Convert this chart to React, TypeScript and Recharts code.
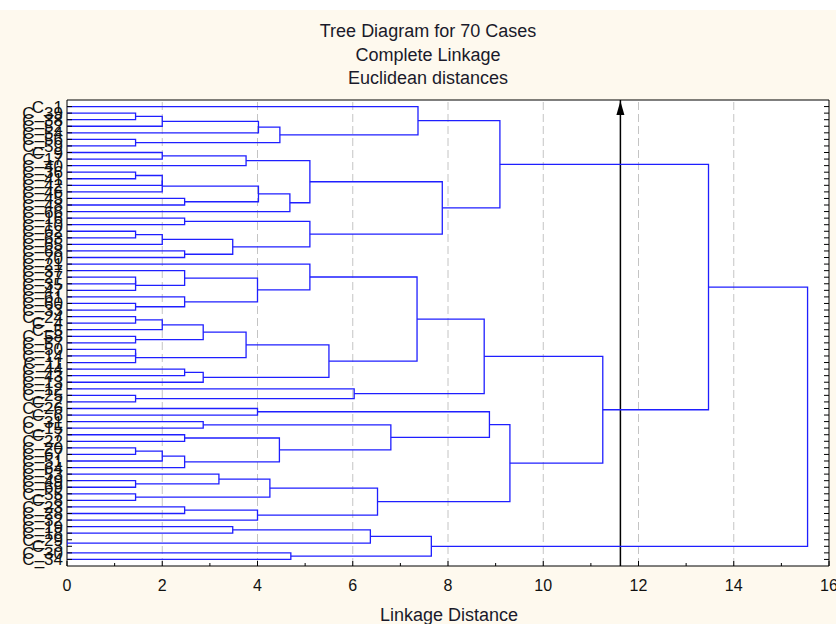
import React from "react";
import { ScatterChart, Scatter, XAxis, YAxis, ReferenceLine, CartesianGrid } from "recharts";

// case labels, top to bottom in tree order
const leafLabels = [
  "C_1", "C_39", "C_38", "C_52", "C_54", "C_56", "C_59", "C_9", "C_17", "C_40",
  "C_36", "C_41", "C_42", "C_46", "C_45", "C_48", "C_66", "C_16", "C_10", "C_62",
  "C_63", "C_65", "C_68", "C_70", "C_21", "C_37", "C_27", "C_35", "C_47", "C_61",
  "C_60", "C_33", "C_24", "C_4", "C_5", "C_58", "C_57", "C_50", "C_14", "C_11",
  "C_44", "C_43", "C_13", "C_12", "C_25", "C_2", "C_26", "C_6", "C_31", "C_15",
  "C_7", "C_22", "C_20", "C_67", "C_51", "C_64", "C_53", "C_49", "C_69", "C_55",
  "C_8", "C_23", "C_28", "C_32", "C_19", "C_18", "C_29", "C_3", "C_30", "C_34",
];

// [left child, right child, linkage distance]; ids >= 70 are earlier merges
const merges: [number, number, number][] = [
  [1, 2, 1.44], [70, 3, 2.0], [71, 4, 4.02], [5, 6, 1.44], [72, 73, 4.47],
  [0, 74, 7.37], [7, 8, 2.0], [76, 9, 3.76], [10, 11, 1.44], [78, 12, 2.0],
  [79, 13, 2.0], [14, 15, 2.47], [80, 81, 4.02], [82, 16, 4.68], [77, 83, 5.1],
  [17, 18, 2.47], [19, 20, 1.44], [86, 21, 2.0], [22, 23, 2.47], [87, 88, 3.48],
  [85, 89, 5.1], [84, 90, 7.88], [75, 91, 9.09],
  [26, 27, 1.44], [93, 28, 1.44], [25, 94, 2.47], [30, 31, 1.44], [29, 96, 2.47],
  [95, 97, 4.0], [24, 98, 5.1], [32, 33, 1.44], [100, 34, 2.0], [35, 36, 1.44],
  [101, 102, 2.86], [37, 38, 1.44], [104, 39, 1.44], [103, 105, 3.76], [40, 41, 2.47],
  [107, 42, 2.86], [106, 108, 5.5], [99, 109, 7.35], [44, 45, 1.44], [43, 111, 6.03],
  [110, 112, 8.76], [46, 47, 4.0], [48, 49, 2.86], [50, 51, 2.47], [52, 53, 1.44],
  [117, 54, 2.0], [118, 55, 2.47], [116, 119, 4.46], [115, 120, 6.8], [114, 121, 8.87],
  [57, 58, 1.44], [56, 123, 3.19], [59, 60, 1.44], [124, 125, 4.26], [61, 62, 2.47],
  [127, 63, 4.0], [126, 128, 6.52], [122, 129, 9.3], [113, 130, 11.25], [92, 131, 13.47],
  [64, 65, 3.48], [66, 67, 0], [133, 134, 6.37], [68, 69, 4.7], [135, 136, 7.65],
  [132, 137, 15.55],
];

const distanceTicks = [0, 1, 2, 3, 4, 5, 6, 7, 8, 9, 10, 11, 12, 13, 14, 15, 16];
const gridTicks = [2, 4, 6, 8, 10, 12, 14];
const cutDistance = 11.62;

const BLUE = "#1f1fff";
const FONT = "'Liberation Sans', Arial, sans-serif";

type Pt = { x: number; y: number };

// one elbow (4 points) per merge, leaves sit at their row index
function buildLinks(): Pt[][] {
  const nodes = leafLabels.map((_, i) => ({ y: i, h: 0 }));
  return merges.map(([a, b, h]) => {
    const na = nodes[a];
    const nb = nodes[b];
    nodes.push({ y: (na.y + nb.y) / 2, h });
    return [
      { x: na.h, y: na.y },
      { x: h, y: na.y },
      { x: h, y: nb.y },
      { x: nb.h, y: nb.y },
    ];
  });
}

const links = buildLinks();
const leafIdx = leafLabels.map((_, i) => i);

const noDot = () => <g />;

const BottomTick = (props: any) => {
  const { x, y, payload } = props;
  const v = payload.value;
  const major = v % 2 === 0;
  return (
    <g>
      <line x1={x} x2={x} y1={y} y2={y - (major ? 5 : 3)} stroke="#000" />
      {major && (
        <text x={x} y={y + 25} textAnchor="middle" fontSize={16} fontFamily={FONT} fill="#111">
          {v}
        </text>
      )}
    </g>
  );
};

const TopTick = (props: any) => {
  const { x, y, payload } = props;
  const major = payload.value % 2 === 0;
  return <line x1={x} x2={x} y1={y} y2={y + (major ? 5 : 3)} stroke="#000" />;
};

const LeftTick = (props: any) => {
  const { x, y, payload } = props;
  return (
    <g>
      <line x1={x} x2={x + 5} y1={y} y2={y} stroke="#000" />
      <text x={x - 4} y={y + 6} textAnchor="end" fontSize={17} fontFamily={FONT} fill="#111">
        {leafLabels[payload.value]}
      </text>
    </g>
  );
};

const RightTick = (props: any) => {
  const { x, y } = props;
  return <line x1={x - 5} x2={x} y1={y} y2={y} stroke="#000" />;
};

const Arrow = (props: any) => {
  const { viewBox } = props;
  const x = viewBox.x;
  const y = viewBox.y;
  return <polygon points={`${x},${y + 1} ${x - 4},${y + 15} ${x + 4},${y + 15}`} fill="#000" />;
};

export default function App() {
  return (
    <div
      style={{
        position: "absolute",
        left: 0,
        top: 0,
        width: 836,
        height: 624,
        background: "#fef9ee",
        overflow: "hidden",
        fontFamily: FONT,
      }}
    >
      <div style={{ position: "absolute", left: 0, top: 0, width: 836, height: 10, background: "#fff" }} />
      <div style={{ position: "absolute", left: 0, top: 20, width: 856, textAlign: "center", fontSize: 18, lineHeight: "23.5px", color: "#1a1a2a" }}>
        <div>Tree Diagram for 70 Cases</div>
        <div>Complete Linkage</div>
        <div>Euclidean distances</div>
      </div>
      <ScatterChart width={836} height={624} margin={{ top: 99, right: 6, bottom: 57, left: 0 }}>
        <CartesianGrid xAxisId="b" yAxisId="l" horizontal={false} vertical={false} fill="#fff" />
        <XAxis
          xAxisId="b"
          type="number"
          dataKey="x"
          domain={[0, 16]}
          ticks={distanceTicks}
          interval={0}
          height={1}
          tickSize={0}
          tickMargin={0}
          tickLine={false}
          axisLine={{ stroke: "#000" }}
          tick={<BottomTick />}
          allowDataOverflow
        />
        <XAxis
          xAxisId="t"
          orientation="top"
          type="number"
          domain={[0, 16]}
          ticks={distanceTicks}
          interval={0}
          height={1}
          tickSize={0}
          tickMargin={0}
          tickLine={false}
          axisLine={{ stroke: "#000" }}
          tick={<TopTick />}
          allowDataOverflow
        />
        <YAxis
          yAxisId="l"
          type="number"
          dataKey="y"
          domain={[-1, 70]}
          reversed
          ticks={leafIdx}
          interval={0}
          width={67}
          tickSize={0}
          tickMargin={0}
          tickLine={false}
          axisLine={{ stroke: "#000" }}
          tick={<LeftTick />}
          allowDataOverflow
        />
        <YAxis
          yAxisId="r"
          orientation="right"
          type="number"
          domain={[-1, 70]}
          reversed
          ticks={leafIdx}
          interval={0}
          width={1}
          tickSize={0}
          tickMargin={0}
          tickLine={false}
          axisLine={{ stroke: "#000" }}
          tick={<RightTick />}
          allowDataOverflow
        />
        {gridTicks.map((g) => (
          <ReferenceLine
            key={`g${g}`}
            xAxisId="b"
            yAxisId="l"
            x={g}
            stroke="#c4c4c4"
            strokeDasharray="8 4"
          />
        ))}
        {links.map((pts, i) => (
          <Scatter
            key={i}
            xAxisId="b"
            yAxisId="l"
            data={pts}
            line={{ stroke: BLUE, strokeWidth: 1.3 }}
            lineType="joint"
            shape={noDot}
            isAnimationActive={false}
            legendType="none"
          />
        ))}
        <ReferenceLine
          xAxisId="b"
          yAxisId="l"
          x={cutDistance}
          stroke="#000"
          strokeWidth={1.5}
          label={<Arrow />}
        />
      </ScatterChart>
      <div style={{ position: "absolute", left: 0, top: 605, width: 898, textAlign: "center", fontSize: 18, color: "#1a1a2a" }}>
        Linkage Distance
      </div>
    </div>
  );
}
